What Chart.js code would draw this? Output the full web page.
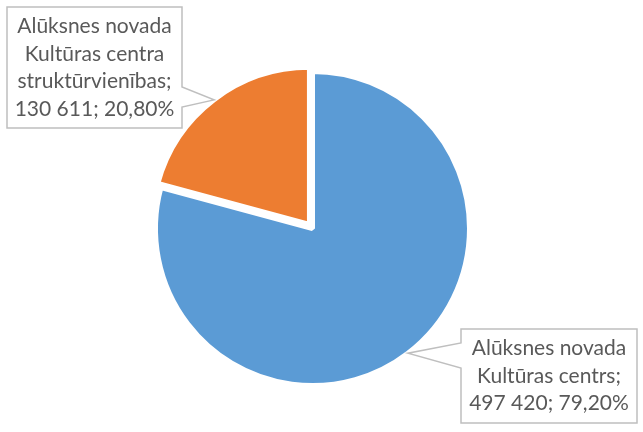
<!DOCTYPE html>
<html lang="lv">
<head>
    <meta charset="UTF-8">
    <title>Alūksnes novada Kultūras centrs</title>
    <script src="https://cdn.jsdelivr.net/npm/chart.js"></script>
    <style>
        html, body { margin: 0; padding: 0; background: #fff; }
        #wrap { width: 643px; height: 432px; }
    </style>
</head>
<body>
    <div id="wrap"><canvas id="myChart"></canvas></div>

    <script>
        // kategorijas (rindiņās sadalītas) un vērtības
        const categories = [
            ['Alūksnes novada', 'Kultūras centrs'],
            ['Alūksnes novada', 'Kultūras centra', 'struktūrvienības']
        ];
        const values = [497420, 130611];
        const colors = ['#5B9BD5', '#ED7D31'];
        const offsets = [0, 20];

        const fmtNum = v => String(v).replace(/\B(?=(\d{3})+(?!\d))/g, ' ');
        const fmtPct = p => p.toFixed(2).replace('.', ',') + '%';

        // izsaukuma lodziņi ar bultu uz sektora malu
        const calloutPlugin = {
            id: 'callouts',
            afterDraw(chart, args, opts) {
                const ctx = chart.ctx;
                const meta = chart.getDatasetMeta(0);
                const total = values.reduce((a, b) => a + b, 0);
                meta.data.forEach((arc, i) => {
                    const box = opts.boxes[i];
                    const p = arc.getProps(['x', 'y', 'startAngle', 'endAngle', 'outerRadius'], true);
                    const mid = (p.startAngle + p.endAngle) / 2;
                    const off = (offsets[i] || 0) / 4;
                    const tx = p.x + Math.cos(mid) * (off + p.outerRadius);
                    const ty = p.y + Math.sin(mid) * (off + p.outerRadius);

                    const lines = categories[i].slice();
                    lines[lines.length - 1] += ';';
                    lines.push(fmtNum(values[i]) + '; ' + fmtPct(values[i] / total * 100));

                    const x0 = box.x, y0 = box.y, x1 = box.x + box.w, y1 = box.y + box.h;
                    ctx.save();
                    ctx.beginPath();
                    ctx.moveTo(x0, y0);
                    ctx.lineTo(x1, y0);
                    if (box.side === 'right') {
                        ctx.lineTo(x1, y0 + box.w0);
                        ctx.lineTo(tx, ty);
                        ctx.lineTo(x1, y0 + box.w1);
                    }
                    ctx.lineTo(x1, y1);
                    ctx.lineTo(x0, y1);
                    if (box.side === 'left') {
                        ctx.lineTo(x0, y0 + box.w1);
                        ctx.lineTo(tx, ty);
                        ctx.lineTo(x0, y0 + box.w0);
                    }
                    ctx.closePath();
                    ctx.fillStyle = '#ffffff';
                    ctx.fill();
                    ctx.lineWidth = 1.5;
                    ctx.strokeStyle = '#BFBFBF';
                    ctx.stroke();

                    ctx.fillStyle = '#595959';
                    ctx.font = '21px Lato';
                    ctx.textAlign = 'center';
                    ctx.textBaseline = 'middle';
                    const lh = 27.5;
                    const startY = y0 + (box.h - lh * lines.length) / 2 + lh / 2;
                    lines.forEach((t, k) => {
                        ctx.fillText(t, (x0 + x1) / 2, startY + k * lh);
                    });
                    ctx.restore();
                });
            }
        };

        const ctx = document.getElementById('myChart').getContext('2d');
        const chart = new Chart(ctx, {
            type: 'pie',
            data: {
                labels: categories.map(c => c.join(' ')),
                datasets: [{
                    data: values,
                    backgroundColor: colors,
                    borderColor: '#ffffff',
                    borderWidth: 5,
                    offset: offsets
                }]
            },
            options: {
                responsive: true,
                maintainAspectRatio: false,
                animation: false,
                radius: 157,
                layout: { padding: { left: 0, right: 18, top: 25, bottom: 0 } },
                plugins: {
                    legend: { display: false },
                    tooltip: { enabled: false },
                    callouts: {
                        boxes: [
                            { x: 461, y: 329, w: 176, h: 94, side: 'left', w0: 14, w1: 39 },
                            { x: 7, y: 7, w: 175, h: 121, side: 'right', w0: 80, w1: 100 }
                        ]
                    }
                }
            },
            plugins: [calloutPlugin]
        });
    </script>
</body>
</html>
